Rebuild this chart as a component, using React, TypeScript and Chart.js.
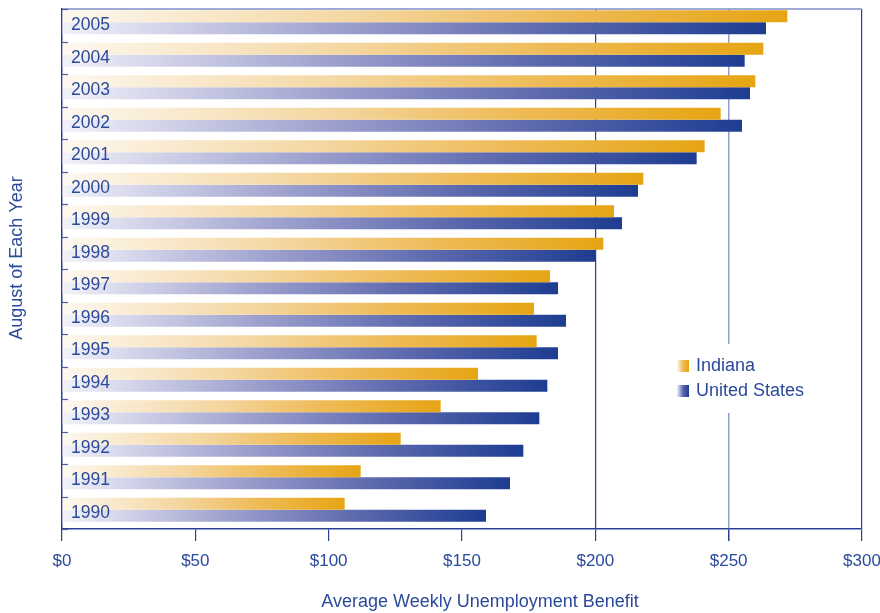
import React, { useEffect, useRef } from "react";
import { Chart, registerables } from "chart.js";

Chart.register(...registerables);

const years: string[] = ["2005", "2004", "2003", "2002", "2001", "2000", "1999", "1998", "1997", "1996", "1995", "1994", "1993", "1992", "1991", "1990"];
const indiana: number[] = [272, 263, 260, 247, 241, 218, 207, 203, 183, 177, 178, 156, 142, 127, 112, 106];
const unitedStates: number[] = [264, 256, 258, 255, 238, 216, 210, 200, 186, 189, 186, 182, 179, 173, 168, 159];
const xTicks: number[] = [0, 50, 100, 150, 200, 250, 300];

const FONT = "'Liberation Sans', Arial, sans-serif";
const TEXT = "#2b4a9b";
const AXIS = "#2a3f96";

const IND_STOPS: [number, string][] = [[0, "#fdf8f0"], [0.4, "#f4d7a2"], [0.7, "#eeba55"], [1, "#e6a514"]];
const US_STOPS: [number, string][] = [[0, "#f2f2f9"], [0.38, "#a0a3cf"], [0.7, "#5c68ad"], [1, "#1d3d91"]];

function grad(ctx: CanvasRenderingContext2D, x0: number, x1: number, stops: [number, string][]) {
  const g = ctx.createLinearGradient(x0, 0, Math.max(x1, x0 + 1), 0);
  stops.forEach(([o, c]) => g.addColorStop(o, c));
  return g;
}

function barColor(stops: [number, string][]) {
  return (c: any) => {
    const chart = c.chart;
    const area = chart.chartArea;
    if (!area || c.type !== "data" || !chart.scales.x) return stops[stops.length - 1][1];
    const x1 = chart.scales.x.getPixelForValue(c.raw as number);
    return grad(chart.ctx, area.left, x1, stops);
  };
}

const decorPlugin = {
  id: "decor",
  beforeDatasetsDraw(chart: any) {
    const { ctx, chartArea } = chart;
    ctx.save();
    ctx.strokeStyle = "#7f8fc6";
    ctx.lineWidth = 1.5;
    ctx.beginPath();
    ctx.moveTo(chartArea.left, chartArea.top);
    ctx.lineTo(chartArea.right, chartArea.top);
    ctx.stroke();
    ctx.restore();
    // bar groups sit slightly above the band centre in the original
    ctx.save();
    ctx.translate(0, -3);
  },
  afterDatasetsDraw(chart: any) {
    chart.ctx.restore();
  },
  afterDraw(chart: any) {
    const { ctx } = chart;
    const ys = chart.scales.y;
    // inner tick marks on the category axis (band boundaries)
    ctx.save();
    ctx.strokeStyle = "#4a5fa8";
    ctx.lineWidth = 1.2;
    const n = ys.ticks.length;
    for (let i = 0; i <= n; i++) {
      const y = Math.round(ys.top + (i * (ys.bottom - ys.top)) / n) + 0.5;
      ctx.beginPath();
      ctx.moveTo(ys.right, y);
      ctx.lineTo(ys.right + 6, y);
      ctx.stroke();
    }
    ctx.restore();

    // axis titles
    ctx.save();
    ctx.fillStyle = TEXT;
    ctx.font = `18px ${FONT}`;
    ctx.textAlign = "center";
    ctx.textBaseline = "middle";
    ctx.fillText("Average Weekly Unemployment Benefit", 480, 602);
    ctx.translate(17, 258);
    ctx.rotate(-Math.PI / 2);
    ctx.fillText("August of Each Year", 0, 0);
    ctx.restore();

    // legend
    ctx.save();
    const lx = 677;
    ctx.fillStyle = "#ffffff";
    ctx.fillRect(668, 344, 150, 69);
    const items: [string, [number, string][]][] = [["Indiana", IND_STOPS], ["United States", US_STOPS]];
    items.forEach(([label, stops], i) => {
      const cy = 366 + i * 25;
      ctx.fillStyle = grad(ctx, lx, lx + 12, [[0, stops[0][1]], [0.5, stops[2][1]], [1, stops[3][1]]]);
      ctx.fillRect(lx, cy - 6, 12, 12);
      ctx.fillStyle = TEXT;
      ctx.font = `18px ${FONT}`;
      ctx.textAlign = "left";
      ctx.textBaseline = "middle";
      ctx.fillText(label, 696, cy);
    });
    ctx.restore();
  },
};

export default function App() {
  const ref = useRef<HTMLCanvasElement>(null);
  useEffect(() => {
    if (!ref.current) return;
    const chart = new Chart(ref.current, {
      type: "bar",
      data: {
        labels: years,
        datasets: [
          { label: "Indiana", data: indiana, backgroundColor: barColor(IND_STOPS) as any, borderWidth: 0 },
          { label: "United States", data: unitedStates, backgroundColor: barColor(US_STOPS) as any, borderWidth: 0 },
        ],
      },
      options: {
        indexAxis: "y",
        animation: false,
        responsive: true,
        maintainAspectRatio: false,
        layout: { padding: { left: 0, top: 9, right: 18, bottom: 0 } },
        datasets: { bar: { categoryPercentage: 0.74, barPercentage: 1 } },
        plugins: { legend: { display: false }, tooltip: { enabled: false } },
        scales: {
          x: {
            min: 0,
            max: 300,
            afterBuildTicks: (s: any) => { s.ticks = xTicks.map((v) => ({ value: v })); },
            afterFit: (s: any) => { s.height = 84; s.paddingRight = 0; s.paddingLeft = 0; },
            border: { display: true, color: AXIS, width: 1.5 },
            grid: {
              color: (c: any) => {
                const v = c.tick ? c.tick.value : null;
                if (v === 200 || v === 300) return AXIS;
                if (v === 250) return "#8e9fcc";
                return "rgba(0,0,0,0)";
              },
              lineWidth: (c: any) => (c.tick && c.tick.value === 250 ? 1.5 : 1.2),
              tickColor: AXIS,
              tickLength: 12,
              drawTicks: true,
            },
            ticks: {
              color: TEXT,
              font: { family: FONT, size: 17 },
              padding: 10,
              maxRotation: 0,
              callback: (v: any) => "$" + v,
            },
            title: { display: false },
          },
          y: {
            afterFit: (s: any) => { s.width = 62; s.paddingTop = 0; s.paddingBottom = 0; },
            border: { display: true, color: AXIS, width: 1.5 },
            grid: {
              offset: true,
              drawOnChartArea: false,
              drawTicks: false,
            },
            ticks: {
              mirror: true,
              padding: 9,
              color: TEXT,
              font: { family: FONT, size: 17.5 },
              z: 1,
            },
          },
        },
      },
      plugins: [decorPlugin],
    });
    return () => chart.destroy();
  }, []);
  return (
    <div style={{ position: "absolute", left: 0, top: 0, width: 880, height: 613 }}>
      <canvas ref={ref} />
    </div>
  );
}
